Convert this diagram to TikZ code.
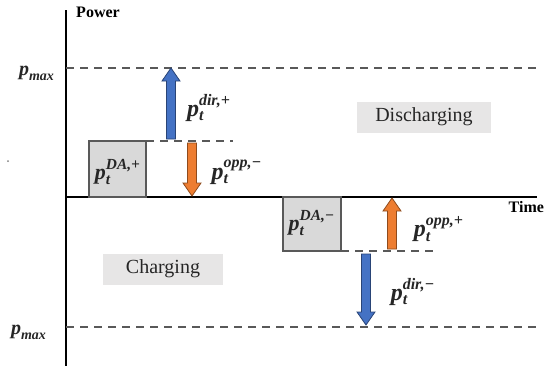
\documentclass[tikz,border=0pt]{standalone}
\usepackage{amsmath}
\usepackage{fontspec}
\setmainfont{Liberation Serif}
\definecolor{dirblue}{HTML}{4472C4}
\definecolor{oppor}{HTML}{ED7D31}
\definecolor{dabox}{HTML}{D9D9D9}
\definecolor{modebg}{HTML}{E7E6E6}
\definecolor{guidegray}{HTML}{595959}

% bold italic power symbols
\newcommand{\bi}[1]{\textbf{\textit{#1}}}
\newcommand{\pvar}[2]{$\bi{p}_{\bi{#1}}^{\bi{#2}}$}

% block arrows: colour, x, tip y, tail y
\newcommand{\uparr}[4]{%
  \filldraw[fill=#1,draw=#1!60!black,line width=0.4pt]
    (#2-4.5,#4) -- (#2-4.5,#3+13) -- (#2-9,#3+13) -- (#2,#3)
    -- (#2+9,#3+13) -- (#2+4.5,#3+13) -- (#2+4.5,#4) -- cycle;}
\newcommand{\downarr}[4]{%
  \filldraw[fill=#1,draw=#1!60!black,line width=0.4pt]
    (#2-4.5,#4) -- (#2-4.5,#3-13) -- (#2-9,#3-13) -- (#2,#3)
    -- (#2+9,#3-13) -- (#2+4.5,#3-13) -- (#2+4.5,#4) -- cycle;}

\begin{document}
\begin{tikzpicture}[x=0.5pt,y=-0.5pt,
    axislbl/.style={font=\fontsize{8}{9}\selectfont\bfseries},
    mathlbl/.style={font=\fontsize{12}{14}\selectfont, text=black!85},
    guide/.style={guidegray, line width=0.75pt, dash pattern=on 4pt off 3pt},
    dablock/.style={draw=guidegray, fill=dabox, line width=0.75pt},
    modebox/.style={fill=modebg, font=\fontsize{10}{12}\selectfont, text=black!85,
      minimum width=67pt, minimum height=15.5pt, inner sep=0pt}]
  \useasboundingbox (0,0) rectangle (551,370);
  % axes
  \draw[line width=0.6pt] (66,10) -- (66,366);
  \draw[line width=0.6pt] (66,197) -- (537,197);
  \node[axislbl] (power) at (98,12) {Power};
  \node[axislbl, anchor=east] (time) at (551,207) {Time};
  % power limits
  \draw[guide] (66,68) -- (541,68);
  \draw[guide] (66,327) -- (541,327);
  \node[mathlbl, font=\fontsize{10}{12}\selectfont] (pmaxup) at (37,73) {$\bi{p}_{\bi{max}}$};
  \node[mathlbl, font=\fontsize{10}{12}\selectfont] (pmaxdn) at (29,332) {$\bi{p}_{\bi{max}}$};
  % day-ahead positions
  \filldraw[dablock] (89,197) rectangle (146,141);
  \filldraw[dablock] (283,197) rectangle (341,251);
  \node[mathlbl, font=\fontsize{11}{13}\selectfont] (daplus) at (118,172) {\pvar{t}{DA,+}};
  \node[mathlbl, font=\fontsize{11}{13}\selectfont] (daminus) at (312,223) {\pvar{t}{DA,−}};
  \draw[guide] (146,141) -- (233,141);
  \draw[guide] (341,251) -- (433,251);
  % regulation arrows
  \uparr{dirblue}{171}{68}{139}
  \downarr{oppor}{192}{196}{143}
  \uparr{oppor}{392}{198}{249}
  \downarr{dirblue}{366}{325}{254}
  \node[mathlbl] (dirplus) at (209,108) {\pvar{t}{dir,+}};
  \node[mathlbl] (oppminus) at (237,172) {\pvar{t}{opp,−}};
  \node[mathlbl] (oppplus) at (439,229) {\pvar{t}{opp,+}};
  \node[mathlbl] (dirminus) at (413,292) {\pvar{t}{dir,−}};
  % operating modes
  \node[modebox] (dis) at (424,117) {Discharging};
  \node[modebox, minimum width=60pt] (chg) at (163,269) {Charging};
  \fill[gray] (8,161) circle (0.5pt);
\end{tikzpicture}
\end{document}
